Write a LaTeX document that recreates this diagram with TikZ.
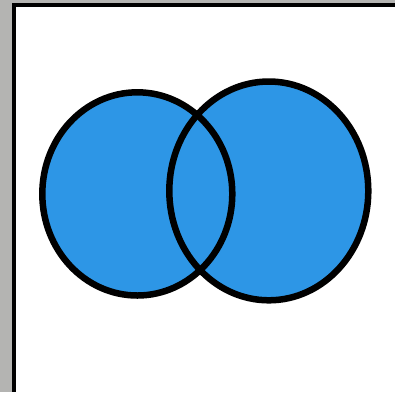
\documentclass[tikz,border=0pt]{standalone}
\usepackage{xcolor}
\usepackage{tikz}
\definecolor{bggray}{RGB}{180,180,178}
\definecolor{setblue}{RGB}{45,150,230}

\begin{document}
\begin{tikzpicture}[x=1pt,y=-1pt]
\useasboundingbox (0,0) rectangle (395,392);
\fill[bggray] (0,0) rectangle (395,392);
\fill[black] (12.3,3.3) rectangle (395,392);
\fill[white] (15.7,6.7) rectangle (395,392);
\fill[setblue] (137.3,193.9) ellipse (95 and 101.6);
\fill[setblue] (268.8,190.9) ellipse (99.5 and 109.4);
\draw[line width=6.5pt] (137.3,193.9) ellipse (95 and 101.6);
\draw[line width=6.5pt] (268.8,190.9) ellipse (99.5 and 109.4);
\end{tikzpicture}
\end{document}
